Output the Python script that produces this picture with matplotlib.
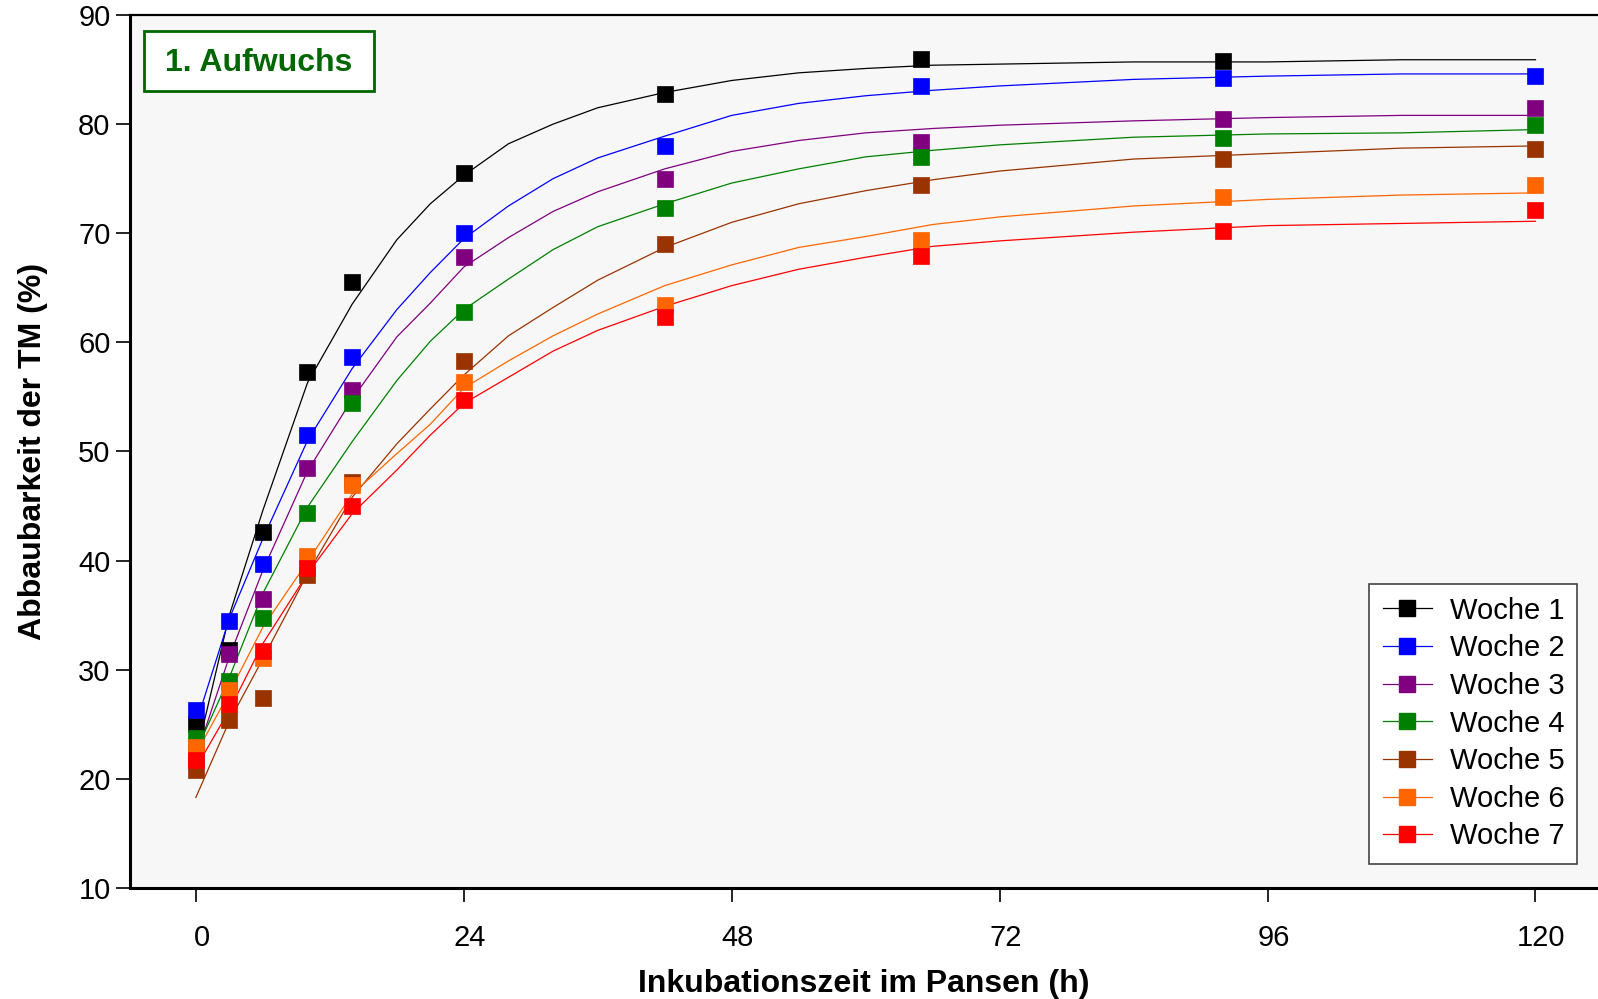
import numpy as np
import matplotlib
matplotlib.use("Agg")
import matplotlib.pyplot as plt
import matplotlib.transforms as mtransforms
from matplotlib.lines import Line2D
from matplotlib.patches import Rectangle

plt.rcParams['font.family'] = ['Liberation Sans', 'DejaVu Sans']

# Messzeitpunkte (h)
t_mess = [0, 3, 6, 10, 14, 24, 42, 65, 92, 120]

# Messwerte je Woche (Abbaubarkeit der TM, %)
woche1 = [25.0, 31.8, 42.6, 57.3, 65.5, 75.5, 82.8, 86.0, 85.8, np.nan]
woche2 = [26.3, 34.5, 39.7, 51.5, 58.7, 70.0, 78.0, 83.5, 84.2, 84.4]
woche3 = [22.2, 31.4, 36.5, 48.5, 55.6, 67.8, 75.0, 78.4, 80.5, 81.5]
woche4 = [23.7, 29.0, 34.7, 44.4, 54.4, 62.8, 72.3, 77.0, 78.7, 79.9]
woche5 = [20.8, 25.4, 27.4, 38.7, 47.2, 58.3, 69.0, 74.4, 76.8, 77.7]
woche6 = [22.9, 28.1, 31.1, 40.4, 46.9, 56.4, 63.4, 69.4, 73.3, 74.4]
woche7 = [21.7, 26.9, 31.7, 39.3, 45.0, 54.7, 62.3, 67.9, 70.2, 72.1]

# angepasste Kurven
t_kurve = [0, 3, 6, 10, 14, 18, 21, 24, 28, 32, 36, 42, 48, 54, 60, 66, 72, 84, 96, 108, 120]
kurve1 = [22.0, 35.0, 44.6, 56.3, 63.5, 69.4, 72.7, 75.3, 78.2, 80.0, 81.5, 82.9, 84.0, 84.7, 85.1, 85.4, 85.5, 85.7, 85.7, 85.9, 85.9]
kurve2 = [25.0, 34.7, 42.0, 51.0, 57.6, 63.0, 66.4, 69.5, 72.5, 75.0, 76.9, 78.9, 80.8, 81.9, 82.6, 83.1, 83.5, 84.1, 84.4, 84.6, 84.6]
kurve3 = [22.0, 31.2, 39.1, 48.2, 54.8, 60.5, 63.6, 66.9, 69.6, 72.0, 73.8, 75.9, 77.5, 78.5, 79.2, 79.6, 79.9, 80.3, 80.6, 80.8, 80.8]
kurve4 = [22.5, 29.3, 37.0, 44.9, 50.9, 56.5, 60.1, 63.0, 65.8, 68.5, 70.6, 72.7, 74.6, 75.9, 77.0, 77.6, 78.1, 78.8, 79.1, 79.2, 79.5]
kurve5 = [18.3, 25.3, 31.0, 38.8, 45.8, 50.7, 53.9, 57.0, 60.6, 63.2, 65.7, 68.7, 71.0, 72.7, 73.9, 74.9, 75.7, 76.8, 77.3, 77.8, 78.0]
kurve6 = [22.3, 27.9, 33.9, 39.9, 46.1, 49.8, 52.5, 55.8, 58.3, 60.6, 62.6, 65.2, 67.1, 68.7, 69.7, 70.8, 71.5, 72.5, 73.1, 73.5, 73.7]
kurve7 = [21.0, 26.3, 32.4, 38.8, 44.3, 48.3, 51.5, 54.4, 56.8, 59.2, 61.1, 63.3, 65.2, 66.7, 67.8, 68.8, 69.3, 70.1, 70.7, 70.9, 71.1]

namen = ["Woche 1", "Woche 2", "Woche 3", "Woche 4", "Woche 5", "Woche 6", "Woche 7"]
farben = ["#000000", "#0000FF", "#800080", "#008000", "#993300", "#FF6600", "#FF0000"]
messwerte = [woche1, woche2, woche3, woche4, woche5, woche6, woche7]
kurven = [kurve1, kurve2, kurve3, kurve4, kurve5, kurve6, kurve7]

fig = plt.figure(figsize=(15.98, 9.99), dpi=100)
ax = fig.add_axes([130 / 1598, 111 / 999, 1468 / 1598, 873 / 999])
ax.set_facecolor("#F7F7F7")

# erst die Kurven, dann die Messpunkte
for kurve, farbe in zip(kurven, farben):
    ax.plot(t_kurve, kurve, color=farbe, lw=0.9, zorder=2)
for werte, farbe in zip(messwerte, farben):
    ax.plot(t_mess, werte, 's', color=farbe, ms=11.5, mec=farbe, mew=0.5, zorder=3)

ax.set_xlim(-5.9, 125.6)
ax.set_ylim(10, 90)
ax.set_xticks([0, 24, 48, 72, 96, 120])
ax.set_yticks(range(10, 91, 10))
ax.tick_params(axis='x', direction='out', length=10, width=1.2, pad=16, labelsize=21)
ax.tick_params(axis='y', direction='out', length=10, width=1.2, pad=4, labelsize=21)

# x-Beschriftung leicht nach rechts versetzt wie im Original
versatz = mtransforms.ScaledTranslation(6 / 100, 0, fig.dpi_scale_trans)
for lbl in ax.get_xticklabels():
    lbl.set_transform(lbl.get_transform() + versatz)

for s in ["left", "bottom"]:
    ax.spines[s].set_linewidth(2.2)
ax.spines["top"].set_linewidth(1.6)
ax.spines["right"].set_visible(False)

ax.set_xlabel("Inkubationszeit im Pansen (h)", fontsize=23, fontweight='bold', labelpad=12)
ax.set_ylabel("Abbaubarkeit der TM (%)", fontsize=23, fontweight='bold', labelpad=22)

# Kasten "1. Aufwuchs"
ax.add_patch(Rectangle((0.0095, 0.9129), 0.1567, 0.0688, transform=ax.transAxes,
                       fc='white', ec='#006600', lw=2, zorder=5))
ax.text(0.0879, 0.9445, "1. Aufwuchs", transform=ax.transAxes, fontsize=23, fontweight='bold',
        color="#006600", ha='center', va='center', zorder=6)

handles = [Line2D([0], [0], color=f, lw=0.9, marker='s', ms=11.5, mec=f) for f in farben]
leg = ax.legend(handles, namen, loc='lower right', bbox_to_anchor=(0.986, 0.028), fontsize=21,
                frameon=True, fancybox=False, edgecolor='#444444', framealpha=1, borderaxespad=0,
                handlelength=1.7, labelspacing=0.33, borderpad=0.45, handletextpad=0.6)
leg.get_frame().set_linewidth(1.2)

fig.savefig("out.png", dpi=100)
